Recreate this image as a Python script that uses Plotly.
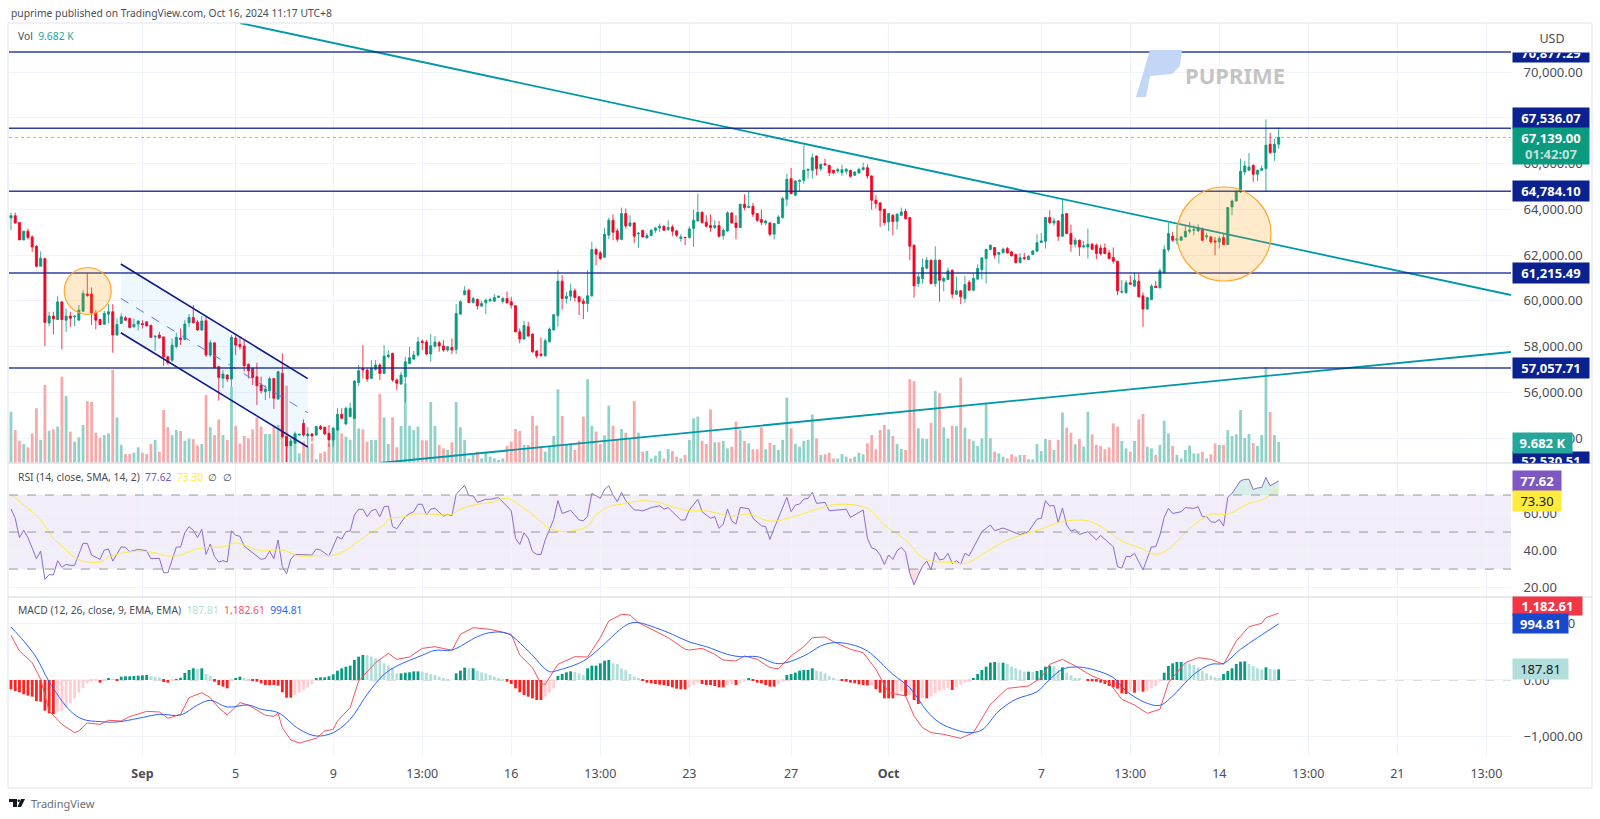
import plotly.graph_objects as go
from plotly.subplots import make_subplots

W = 1600
H = 819
FONT = "Noto Sans"

OPEN = [
    63620,63720,63420,62660,63040,62790,62380,61510,61840,59030,
    59330,59180,59950,59150,59330,59300,59150,59545,60300,60290,
    59470,59180,58975,59415,59520,58500,59010,59255,59225,58860,
    58980,59000,59080,58930,58420,58500,58420,57550,57400,58000,
    58370,58310,59040,59270,59065,58720,59125,57625,58160,57115,
    56610,56750,56580,58370,58090,58020,57220,57030,56680,56315,
    56025,56070,56605,55705,56825,54060,53660,53770,54130,54640,
    54090,54180,54130,54500,54470,54205,53915,54350,55035,54615,
    54935,54860,56430,57040,56970,56605,57000,57190,56825,57555,
    57700,56534,56360,56680,57260,57450,57625,58230,58193,57670,
    58010,58165,58020,57843,57960,57873,59415,60260,60463,59925,
    60056,59765,59910,59997,59982,60143,59970,60100,59955,59780,
    58645,58325,58862,58542,57800,57670,57597,58208,58717,59343,
    60856,60100,60200,60434,60172,59983,59881,60216,62238,62093,
    61903,62864,63519,63053,62675,63810,63271,63402,62922,63082,
    62747,62849,63082,63184,63257,63111,63227,63053,62718,62776,
    62762,63155,63489,63868,63431,63286,63198,63286,62849,63053,
    63839,63402,63198,64217,64071,64130,63810,63548,63402,63402,
    62907,63373,63635,64435,65337,64610,65221,65264,65701,65701,
    66327,65774,65992,65919,65701,65672,65599,65657,65701,65483,
    65584,65730,65817,65454,64392,64275,63999,63446,63737,63475,
    63737,63911,63635,62427,60754,60972,61423,61773,60754,61773,
    60856,60929,61336,60288,60434,60099,60812,60463,60943,61365,
    61846,62238,62325,62035,62107,62282,62136,62020,61671,61889,
    61802,62020,62165,62544,62602,63635,63402,63490,62820,63810,
    62937,62471,62646,62355,62355,62471,62427,62311,62311,62093,
    61889,61729,60376,60347,60783,60638,60856,60216,59634,60056,
    60638,60565,61234,62238,62820,62645,62645,62791,63038,63082,
    63053,63140,62791,62791,62616,62573,62762,62457,64100,64362,
    64755,65631,65704,65923,65529,65704,65777,66843,66478,66843,
]
HIGH = [
    63850,63850,63420,63040,63150,62860,62430,62160,61890,59520,
    59520,60200,59990,59660,59520,59350,59810,60460,61190,60580,
    59590,59225,59560,59850,59850,59225,59444,59330,59270,59225,
    59150,59150,59080,58930,58470,58640,58420,57600,58350,58600,
    58790,59150,59420,59810,59150,59330,59300,58280,58160,57145,
    56970,56795,58500,58500,58425,58280,57260,57085,57290,56680,
    56315,56680,56605,56940,57700,54090,53990,54280,54180,54815,
    54470,54210,54530,54570,54500,54570,54500,55300,55300,55370,
    55545,56534,57190,58060,57040,57407,57407,57260,58060,57840,
    57725,56605,56900,57550,57990,57800,58425,58310,58280,58540,
    58455,58250,58280,58020,58353,59850,60027,60638,60522,60172,
    60100,60000,60100,60130,60288,60230,60172,60405,60172,59810,
    58790,59125,59080,58570,57843,58397,58353,58833,59415,61336,
    61118,60390,60754,60536,60201,60100,61336,62572,62325,62180,
    63184,63635,63780,63155,64071,64028,63737,63446,63009,63082,
    62965,63140,63227,63373,63300,63519,63329,63111,62907,62791,
    63257,63984,64683,63911,63737,63780,63519,63489,63155,63911,
    63868,63737,64246,64654,64755,64275,63839,63984,63548,63446,
    63402,63737,64537,65556,65803,65264,65293,66792,65760,66429,
    66356,65992,66210,65948,65730,65817,65948,65803,65730,65657,
    65817,66036,65963,65483,64610,64319,64028,63839,63780,63839,
    64071,64028,63664,62456,61190,61845,61918,61802,62384,61802,
    61045,61452,61365,61045,60463,61074,60900,61190,61598,61889,
    62282,62456,62355,62136,62325,62355,62180,62063,62093,62093,
    61991,62209,62907,62965,63664,63955,63635,63519,64421,63839,
    63330,62762,62675,62616,63155,62529,62500,62456,62500,62209,
    62325,61743,60900,60900,61118,61220,61190,60361,60172,60725,
    60870,61409,62427,63402,63009,63300,62820,63300,63446,63300,
    63344,63199,62965,62820,62791,62820,62937,64100,64421,64828,
    66211,66114,66463,65953,65733,65923,67925,67339,67091,67573,
]
LOW = [
    63080,63370,62660,62640,62680,62140,61450,61510,58020,58890,
    58540,59150,57870,58630,58860,58890,59150,59520,60170,58935,
    58745,58935,58935,59010,57727,58470,58980,59120,58790,58833,
    58700,58790,58880,58380,57814,58350,57160,57200,57330,57920,
    58060,58280,58860,59010,58690,58690,57550,57550,57040,55630,
    56170,56460,56240,57625,57875,56900,56605,56320,55443,55950,
    55660,55735,55270,55660,53990,52950,53620,53740,54100,54060,
    53640,53840,54100,54350,54130,53620,53620,54320,54820,54570,
    54905,54815,56270,56605,56460,56580,56940,56534,56795,57480,
    56460,56100,56315,55545,57230,57400,57550,57840,57625,57335,
    57960,57770,57770,57770,57670,57670,59400,60245,59910,59880,
    59620,59735,59415,59950,59950,60130,59880,59880,59660,58615,
    58135,58310,58425,57727,57480,57553,57553,58180,58717,58863,
    59620,59880,59997,59954,59372,59197,59517,60172,61554,61772,
    61889,62689,62645,62573,62645,63155,63227,62529,62311,62762,
    62718,62820,62965,63009,63053,63053,62820,62791,62573,62427,
    62718,62355,63460,63373,63198,63009,63140,62762,62675,63009,
    63373,62689,63169,63955,64071,63664,63431,63300,63300,62820,
    62675,63344,63591,64129,64653,64581,64799,65119,65337,65337,
    65482,65672,65919,65454,65526,65585,65454,65526,65381,65454,
    65555,65701,65337,63984,64028,63228,63300,63053,62864,63111,
    63693,63548,61773,60143,60608,60754,61365,60710,60608,59954,
    60419,60900,60099,60245,59852,59910,60434,60434,60929,60929,
    60754,62209,61846,61627,62063,62063,61947,61627,61627,61773,
    61773,61991,62136,62529,62282,63344,63271,62616,62791,62907,
    62136,62325,61962,62282,61846,62209,61816,61991,62034,61816,
    61627,60245,60318,60318,60711,60609,60143,58862,59619,60027,
    60565,60536,61190,62136,62573,62456,62616,62762,62937,62864,
    63009,62602,62675,62500,61991,62282,62428,62428,63737,64333,
    64712,65500,65704,65193,65237,65704,64784,66405,66113,66653,
]
CLOSE = [
    63720,63400,62660,63040,62760,62350,61510,61860,59050,59330,
    59210,59950,59180,59330,59230,59330,59590,60320,60230,59470,
    59150,58960,59444,59520,58500,58964,59300,59150,58833,58964,
    59110,58960,58900,58400,58450,58370,57550,57290,58060,58400,
    58310,58980,59270,59040,58720,59110,57625,58160,57085,56650,
    56795,56580,58400,58060,57989,57160,56940,56650,56285,56070,
    56140,56590,55735,56900,54060,53650,53870,54180,54160,54130,
    54180,54090,54500,54395,54180,53915,54425,55035,54860,55300,
    55300,56490,56940,56970,56580,57040,57190,56825,57580,57625,
    56534,56390,56750,57335,57510,57625,58200,58170,57670,58033,
    58193,58020,57843,57990,57843,59445,59955,60434,59925,60100,
    59780,59880,60027,60056,60143,60200,60100,59910,59810,58645,
    58325,58920,58455,57770,57582,57612,58250,58760,59386,60856,
    60100,60200,60434,60143,59954,59881,60216,62238,62034,61845,
    62907,63519,62995,62689,63810,63271,63402,62820,62947,62791,
    62849,63082,63184,63257,63082,63198,63038,62864,62791,62762,
    63140,63519,63868,63417,63257,63198,63286,62820,63082,63839,
    63402,63198,64217,64071,64115,63780,63519,63431,63490,62907,
    63373,63664,64464,65308,64683,65235,65264,65701,65745,66254,
    65774,65963,65934,65599,65599,65730,65730,65745,65439,65628,
    65745,65817,65454,64392,64246,63955,63417,63810,63460,63780,
    63882,63591,62384,60652,61045,61452,61773,60754,61773,60900,
    60972,61307,60288,60434,60172,60710,60463,60973,61409,61875,
    62238,62427,61991,62107,62253,62093,61962,61671,61875,61846,
    61947,62180,62544,62617,63635,63417,63490,62820,63780,62937,
    62471,62646,62355,62398,62471,62253,62063,62063,62063,61846,
    61729,60434,60405,60783,60725,60900,60172,59634,60143,60638,
    60579,61307,62238,62937,62645,62718,62791,63038,63082,63111,
    63199,62645,62835,62573,62573,62718,62457,64071,64362,64755,
    65657,65894,65850,65529,65704,65777,66800,66478,66843,67139,
]
# volume in thousands
VOLUME = [
    23.5,15.1,10.2,8.7,7.2,13.6,25.1,10.6,35.8,14.8,
    15.4,16.7,39.6,30.7,14.4,9.8,11.8,17.4,28.4,28,
    13.9,11.6,12.8,13.6,42.7,20.9,8.3,4.1,4.1,4.7,
    7.2,4.7,4.1,8.7,10.6,5.2,24.3,16.4,12.8,15.1,
    14.7,10.2,11.2,10.9,8,8.7,31.2,16.4,12.8,20,
    12.8,10.6,35,17,9,12.4,11.3,15.4,20.9,16.7,
    13.3,13.3,17.1,17.4,16.7,35.5,7.5,13.6,4.4,9.8,
    7.5,9,1.7,4.4,5.2,9,10.6,15.9,13.6,12.1,
    10.6,24.6,15.9,15.4,9.8,10.6,10.6,31.7,20.9,8.7,
    20.9,7.2,17,36.5,17.1,15.1,16.7,10.4,10.4,28,
    17,8.3,6.7,6,9.5,28,16.4,10.6,2.1,3.7,
    5.2,2.1,5.2,2.9,2.1,1.4,2.1,7.8,9.8,15.6,
    14.7,8.3,8.3,21.6,17.1,7.5,5.2,7.8,12.4,33.8,
    21.6,8.3,9,6,10.2,21.3,38.4,17.1,14.4,8.7,
    12.7,26.3,17.1,10.6,15.6,13.9,11.3,28.4,13.9,5.2,
    5.5,2.1,3.4,5.5,2.1,6.3,5.5,2.9,2.1,3.7,
    10.6,20.5,21.3,10.2,8.7,24.6,9.5,9.6,10.1,6.7,
    7.5,19,15.1,10.1,9,6.3,6.3,16.4,6.3,9.3,
    8.3,6,10.6,30,15.9,8.7,7.5,10.2,10.6,22.3,
    11.3,3.7,4,4.7,2.1,2.1,4.1,2.9,2.1,2.9,
    4.7,4,9,12.8,6.3,15.1,17.4,15.4,12.4,8.7,
    6.4,6,38.4,37.6,15.9,11.3,11,18.5,33,32,
    16.4,11.3,17.1,17,39.1,16.2,11,10.2,7.8,11.3,
    27.7,11.3,5.2,4.4,2.9,2.1,4,2.9,3.7,3.7,
    1.7,1.7,8.7,5.5,11,10.6,6,10.6,23.1,16.2,
    13.9,8.6,11,7.5,23.5,13.1,8.3,7.8,6.3,7.2,
    18.2,16.7,10.1,6.7,5.2,10.1,20,22.5,7.5,6.7,
    3.7,8.3,19.4,13.6,7.8,3.7,2.1,6,8,4.4,
    4.4,5.2,2.1,4,9,8.3,8.3,15.1,12.4,13.1,
    24.3,11.5,13.3,9.2,7.8,12.8,44,23.4,12.8,9.682,
]
MACD_HIST = [
    -165,-195,-218,-254,-277,-295,-372,-384,-543,-590,
    -602,-561,-543,-472,-413,-325,-224,-148,-59,-30,
    -18,-47,-12,30,6,-6,59,65,65,71,
    77,83,89,65,53,47,-35,-47,-24,12,
    41,124,177,207,195,207,106,71,-30,-89,
    -118,-148,-18,18,59,18,6,-6,-30,-59,
    -89,-89,-89,-100,-218,-313,-313,-266,-224,-177,
    -130,-71,30,47,47,65,100,165,207,236,
    254,354,413,443,437,413,384,366,295,254,
    207,118,118,130,136,153,153,148,130,106,
    89,59,18,6,0,118,165,218,207,207,
    165,136,118,89,59,30,12,-30,-71,-148,
    -218,-266,-295,-325,-354,-354,-295,-224,-148,71,
    106,136,153,142,118,89,207,254,254,295,
    342,354,295,283,207,177,106,59,30,-18,
    -47,-59,-71,-83,-94,-106,-130,-153,-165,-165,
    -130,-89,-47,-71,-89,-89,-106,-130,-130,-89,
    -71,-89,-59,-12,18,-18,-47,-59,-89,-118,
    -118,-77,-30,89,106,130,165,177,177,207,
    165,148,118,71,18,0,-12,-30,-47,-59,
    -77,-89,-94,-89,-165,-224,-325,-325,-325,-266,
    -207,-283,-266,-354,-425,-325,-325,-295,-236,-189,
    -165,-148,-177,-130,-89,-47,-30,30,106,177,
    236,307,319,307,307,283,236,207,177,148,
    148,142,159,177,236,254,248,177,224,130,
    83,30,18,0,-12,-24,-30,-47,-71,-106,
    -130,-153,-236,-248,-207,-224,-189,-207,-195,-148,
    -106,-30,130,248,295,319,319,307,295,266,
    218,165,118,77,47,18,106,159,207,283,
    325,330,283,248,207,189,224,195,183,188,
]

RSI_BARS = [
    0,1,2,3,4,5,6,7,8,9,10,11,12,13,14,15,17,18,19,21,22,23,24,26,27,28,30,32,33,35,
    36,37,39,40,41,42,43,44,45,46,47,48,49,50,51,52,53,54,55,59,60,61,62,63,64,65,66,67,71,72,
    73,75,77,78,79,80,81,82,83,84,85,86,87,88,89,90,91,93,94,95,96,97,98,99,100,102,103,104,105,107,
    108,109,110,112,113,115,118,119,120,121,122,123,124,125,126,128,129,130,132,134,135,136,137,139,140,141,142,143,144,145,
    147,148,149,151,153,154,155,158,159,160,162,163,165,166,167,168,169,170,171,172,174,175,177,178,179,180,183,184,185,186,
    187,188,189,190,192,193,197,198,201,202,203,204,205,206,207,208,209,210,211,212,213,214,215,216,217,218,219,220,221,222,
    223,224,225,226,229,231,232,234,236,238,240,242,243,244,245,246,247,248,249,250,251,252,254,256,257,260,261,262,263,264,
    265,267,269,270,271,272,273,274,276,277,279,280,281,282,283,284,285,286,287,288,290,291,292,293,294,295,296,297,299,
]
RSI_VALUES = [
    62.4,57.4,47,51,47,41.7,35.6,39.7,24.4,27,26.8,34.5,31,32.5,32,32,43.9,43.9,37.6,35.2,40.3,40.8,34.3,42,41.7,39.4,40.6,39.9,35.6,35.8,
    28,28,41.9,41.9,49.6,52.9,51,47,51.5,37.9,43.5,36.7,33.8,34.5,33.8,50.7,48.2,47.7,42.4,35.2,35.8,39.7,35.6,45.7,31.3,27.5,35.4,37.9,37.6,40.8,
    40.3,37,47.5,46.2,50.2,50.5,59.2,62.3,62.3,58.3,61.5,62.3,58.3,63.7,64,52.9,51.8,58.3,60,61,65,65,59.2,62.4,62.8,58.6,59.5,58.8,70.4,75.2,
    69.6,69.6,66,67.7,67.7,68.6,61.5,46.6,43.3,49.6,46.6,39.4,37.9,37.9,45.7,56.8,67,60,61.7,56.5,56.1,58.6,70.9,68.2,73,75,70,66.4,71.4,67,
    61.9,61.9,61.4,63.2,64.2,62.4,63.2,56.5,56.5,61.9,67.7,61,57.4,58.3,52,54.3,62.4,56.1,54.3,63.3,62.6,57.4,53.4,52.9,46,52,68.7,61,64.6,65.1,
    67.8,68.2,71.4,65.5,66,61.5,62.3,57.9,61.9,46.6,41.5,40.6,37.6,32.5,37.6,35.2,39.9,41.7,39,27.7,21.5,26.8,31.6,34.3,29.5,39.2,34.9,35.4,38.5,33,
    34.5,32.7,38.5,37.2,50.2,53.8,50.7,52.2,50.2,48.6,50.2,57,57.4,66.9,64,64.4,55.2,63,53.8,50.5,51.4,48.7,50.2,45.7,48.2,42,31.3,30.5,36.7,36.7,
    38.5,29.5,42,42,48.4,57.9,62.8,60,61,63.2,62.8,63.7,58.3,58.3,55.6,55.2,56.8,53.2,68.7,70.9,77.7,78.5,78.5,73,73.8,74.1,79.5,75,77.62,
]
RSI_MA_BARS = [
    0,4,7,10,12,15,17,21,23,26,30,34,37,40,43,46,50,53,55,59,64,68,72,77,80,84,88,89,93,95,
    99,104,106,110,113,117,121,125,127,131,136,138,141,144,148,152,157,160,164,170,174,179,185,191,195,202,206,211,215,218,
    222,225,231,235,243,248,254,259,262,266,270,273,278,283,287,292,295,299,
]
RSI_MA_VALUES = [
    70.2,62.8,56.5,46.6,42.4,36.3,34.3,33.8,36.3,38.5,39.7,38.8,37,37.6,40.3,41.7,42,44.2,43,39.9,40.3,37,37.2,37.9,41.7,48.4,53.8,57,58.3,59.7,
    59.7,59.5,62.4,65,65.9,68.2,62.8,55.6,52,50.2,53.2,59.2,63.7,65,66.8,66.4,63,61.5,61.4,58.6,59.7,55.9,58.6,63,65,62.8,53.8,45.7,36.1,34,
    33.6,33,40.6,45.7,51.6,55.6,56,50.2,45,41.7,38,40.6,52,59.5,59.7,65.5,67.3,73.3,
]
MACD_BARS = [
    0,2,5,7,9,12,15,16,18,21,23,26,28,32,35,37,40,42,45,47,49,51,54,56,60,62,63,64,66,68,
    72,74,76,77,80,82,86,89,91,94,97,100,104,106,109,113,118,120,123,125,126,129,133,136,139,141,144,146,148,152,
    155,159,160,163,166,168,171,173,176,179,181,184,187,189,192,194,198,201,204,207,211,213,215,217,220,224,227,231,235,240,
    243,245,248,251,255,259,262,265,268,271,273,277,280,283,286,289,292,295,296,299,
]
MACD_VALUES = [
    790,513,307,12,-549,-785,-932,-903,-761,-785,-714,-726,-649,-555,-566,-679,-608,-313,-224,-313,-490,-620,-401,-443,-625,-643,-590,-844,-1062,-1115,
    -1032,-903,-873,-726,-490,-18,307,472,366,407,560,590,525,808,926,897,808,442,218,-65,-77,277,413,407,749,1044,1162,1150,1015,867,
    749,543,531,560,454,354,336,425,366,218,200,425,590,749,761,678,543,484,189,-224,-283,-637,-844,-932,-962,-1032,-932,-431,-148,-106,
    41,277,366,248,71,-47,-342,-443,-590,-519,-47,307,395,366,277,690,944,1003,1103,1182.61,
]
SIGNAL_BARS = [
    0,3,6,9,14,17,21,25,30,35,40,44,47,51,56,59,63,68,72,76,80,84,88,91,97,100,104,110,113,117,
    122,127,129,135,139,144,146,148,152,156,160,164,169,172,176,181,187,191,194,198,202,208,212,216,219,223,226,229,233,237,
    242,245,248,251,255,260,263,268,271,274,279,283,286,290,294,299,
]
SIGNAL_VALUES = [
    938,690,395,-30,-549,-696,-737,-743,-679,-608,-620,-443,-360,-478,-443,-519,-578,-873,-991,-932,-696,-254,100,248,437,525,531,767,838,826,
    513,148,171,336,572,915,1003,1015,926,808,673,590,454,413,413,289,425,602,661,631,513,100,-136,-549,-755,-885,-932,-885,-549,-342,
    -207,12,189,230,189,41,-195,-413,-448,-283,100,277,295,543,749,994.81,
]

TICK_BARS = [31, 53, 76, 97, 118, 139, 160, 184, 207, 243, 264, 285, 306, 327, 348]
TICK_TEXT = ["<b>Sep</b>", "5", "9", "13:00", "16", "13:00", "23", "27", "<b>Oct</b>", "7", "13:00", "14", "13:00", "21", "13:00"]
PRICE_TICKS = [54000, 56000, 58000, 60000, 62000, 64000, 66000, 68000, 70000]
RSI_TICKS = [20, 40, 60]
MACD_TICKS = [-1000, 0, 1000]
LEVELS = [70877.29, 67536.07, 64784.10, 61215.49, 57057.71]
LAST_PRICE = 67139.00

# drawings, bar index / price
TREND_DOWN_X = [54, 353.8]
TREND_DOWN_Y = [72142, 60251]
TREND_UP_X = [87, 353.8]
TREND_UP_Y = [52907, 57760]
CHANNEL_X = [25.9, 70]
CHANNEL_TOP = [61607, 56593]
CHANNEL_MID = [60107, 55100]
CHANNEL_BOTTOM = [58603, 53607]

X_RANGE = [-0.47, 353.8]
PRICE_RANGE = [52907, 72142]
VOL_RANGE = [0, 201.8]
RSI_RANGE = [14.9, 87.3]
MACD_RANGE = [-1363, 1469]

GREEN = "#089981"
RED = "#f7021f"
NAVY = "#0b2190"
TEAL = "#0097a7"
GRID = "#f0f3fa"
BORDER = "#e0e3eb"
TEXT = "#4a4d57"

bars = list(range(len(CLOSE)))


def px(x):
    return x / W


def py(y):
    return 1 - y / H


fig = make_subplots(
    rows=3, cols=1, shared_xaxes=True, vertical_spacing=0,
    specs=[[{"secondary_y": True}], [{}], [{}]],
)

# volume goes on the primary axis so the candles draw over it
vol_colors = ["#8fd3c8" if c >= o else "#f8a9a9" for o, c in zip(OPEN, CLOSE)]
fig.add_trace(go.Bar(x=bars, y=VOLUME, marker_color=vol_colors, marker_line_width=0, width=0.66), row=1, col=1, secondary_y=False)

fig.add_trace(go.Scatter(
    x=CHANNEL_X + CHANNEL_X[::-1], y=CHANNEL_TOP + CHANNEL_BOTTOM[::-1],
    fill="toself", fillcolor="rgba(33,150,243,0.07)", mode="none",
), row=1, col=1, secondary_y=True)

fig.add_trace(go.Candlestick(
    x=bars, open=OPEN, high=HIGH, low=LOW, close=CLOSE,
    increasing=dict(line=dict(color=GREEN, width=0.8), fillcolor=GREEN),
    decreasing=dict(line=dict(color=RED, width=0.8), fillcolor=RED),
    whiskerwidth=0,
), row=1, col=1, secondary_y=True)

for ys, color, width, dash in [
    (CHANNEL_TOP, "#0d1a8a", 1.6, "solid"),
    (CHANNEL_BOTTOM, "#0d1a8a", 1.6, "solid"),
    (CHANNEL_MID, "#4d7cf0", 1, "dash"),
]:
    fig.add_trace(go.Scatter(x=CHANNEL_X, y=ys, mode="lines", line=dict(color=color, width=width, dash=dash)), row=1, col=1, secondary_y=True)

fig.add_trace(go.Scatter(x=TREND_DOWN_X, y=TREND_DOWN_Y, mode="lines", line=dict(color=TEAL, width=1.8)), row=1, col=1, secondary_y=True)
fig.add_trace(go.Scatter(x=TREND_UP_X, y=TREND_UP_Y, mode="lines", line=dict(color=TEAL, width=1.8)), row=1, col=1, secondary_y=True)

# RSI pane, overbought and oversold stretches are shaded
over_x = [b for b, v in zip(RSI_BARS, RSI_VALUES) if b >= 287]
over_y = [max(v, 70) for b, v in zip(RSI_BARS, RSI_VALUES) if b >= 287]
fig.add_trace(go.Scatter(x=over_x, y=[70] * len(over_x), mode="lines", line=dict(width=0)), row=2, col=1)
fig.add_trace(go.Scatter(x=over_x, y=over_y, mode="lines", line=dict(width=0), fill="tonexty", fillcolor="rgba(8,153,129,0.16)"), row=2, col=1)
under_x = [b for b in RSI_BARS if 211 <= b <= 217]
under_y = [min(v, 30) for b, v in zip(RSI_BARS, RSI_VALUES) if 211 <= b <= 217]
fig.add_trace(go.Scatter(x=under_x, y=[30] * len(under_x), mode="lines", line=dict(width=0)), row=2, col=1)
fig.add_trace(go.Scatter(x=under_x, y=under_y, mode="lines", line=dict(width=0), fill="tonexty", fillcolor="rgba(242,54,69,0.16)"), row=2, col=1)
fig.add_trace(go.Scatter(x=RSI_BARS, y=RSI_VALUES, mode="lines", line=dict(color="#8b6ccb", width=1)), row=2, col=1)
fig.add_trace(go.Scatter(x=RSI_MA_BARS, y=RSI_MA_VALUES, mode="lines", line=dict(color="#ffeb3b", width=1, shape="spline")), row=2, col=1)

# MACD pane
hist_colors = []
for n, v in enumerate(MACD_HIST):
    prev = MACD_HIST[n - 1] if n else v
    if v >= 0:
        hist_colors.append("#089981" if v >= prev else "#b2dfdb")
    else:
        hist_colors.append("#ff2020" if v <= prev else "#ffcdd2")
fig.add_trace(go.Bar(x=bars, y=MACD_HIST, marker_color=hist_colors, marker_line_width=0, width=0.66), row=3, col=1)
fig.add_trace(go.Scatter(x=MACD_BARS, y=MACD_VALUES, mode="lines", line=dict(color="#f7525f", width=1)), row=3, col=1)
fig.add_trace(go.Scatter(x=SIGNAL_BARS, y=SIGNAL_VALUES, mode="lines", line=dict(color="#2962ff", width=1, shape="spline")), row=3, col=1)

fig.update_layout(
    width=W, height=H, margin=dict(l=0, r=0, t=0, b=0),
    paper_bgcolor="white", plot_bgcolor="white",
    showlegend=False, barmode="overlay", hovermode=False,
    font=dict(family=FONT, size=13, color=TEXT),
)

x_common = dict(
    domain=[px(9), px(1511)], range=X_RANGE, tickmode="array", tickvals=TICK_BARS,
    showgrid=True, gridcolor=GRID, gridwidth=1, zeroline=False, showline=False,
    rangeslider=dict(visible=False),
)
fig.update_xaxes(**x_common)
fig.update_xaxes(showticklabels=False, ticks="", row=1, col=1)
fig.update_xaxes(showticklabels=False, ticks="", row=2, col=1)
fig.update_xaxes(
    showticklabels=True, ticktext=TICK_TEXT, ticks="outside", ticklen=5, tickcolor="rgba(0,0,0,0)",
    tickfont=dict(family=FONT, size=12.5, color=TEXT), row=3, col=1,
)

y_common = dict(
    side="right", showgrid=True, gridcolor=GRID, gridwidth=1, zeroline=False, showline=False,
    ticks="outside", ticklen=9, tickcolor="rgba(0,0,0,0)", tickmode="array",
    tickfont=dict(family=FONT, size=13, color=TEXT), tickformat=",.2f",
)
fig.update_layout(
    yaxis=dict(domain=[py(463), py(23)], range=VOL_RANGE, visible=False),
    yaxis2=dict(domain=[py(463), py(23)], range=PRICE_RANGE, tickvals=PRICE_TICKS, **y_common),
    yaxis3=dict(domain=[py(597), py(463)], range=RSI_RANGE, tickvals=RSI_TICKS, **y_common),
    yaxis4=dict(domain=[py(757), py(597)], range=MACD_RANGE, tickvals=MACD_TICKS, **y_common),
)

# levels, circles
for lvl in LEVELS:
    fig.add_shape(type="line", xref="x", yref="y2", x0=X_RANGE[0], x1=X_RANGE[1], y0=lvl, y1=lvl,
                  line=dict(color=NAVY, width=1.5), opacity=0.85)
fig.add_shape(type="line", xref="x", yref="y2", x0=X_RANGE[0], x1=X_RANGE[1], y0=LAST_PRICE, y1=LAST_PRICE,
              line=dict(color=GREEN, width=1, dash="dot"), opacity=0.5)


def circle(cx, cy, r):
    fig.add_shape(type="circle", xref="paper", yref="paper",
                  x0=px(cx - r), x1=px(cx + r), y0=py(cy + r), y1=py(cy - r),
                  fillcolor="rgba(255,152,0,0.2)", line=dict(color="#ffa726", width=1.2))


circle(87.7, 291, 23.5)
circle(1224, 234, 47)

# RSI band
fig.add_shape(type="rect", xref="x", yref="y3", x0=X_RANGE[0], x1=X_RANGE[1], y0=30, y1=70,
              fillcolor="rgba(126,87,194,0.1)", line_width=0, layer="below")
for lvl in [70, 50, 30]:
    fig.add_shape(type="line", xref="x", yref="y3", x0=X_RANGE[0], x1=X_RANGE[1], y0=lvl, y1=lvl,
                  line=dict(color="#9598a1", width=1, dash="dash"))
fig.add_shape(type="line", xref="x", yref="y4", x0=X_RANGE[0], x1=X_RANGE[1], y0=0, y1=0,
              line=dict(color="#b5b8c0", width=1, dash="dash"), layer="below")

# frame and pane dividers
fig.add_shape(type="rect", xref="paper", yref="paper", x0=px(8), x1=px(1592), y0=py(788), y1=py(23),
              line=dict(color=BORDER, width=1))
for y in [463, 597]:
    fig.add_shape(type="line", xref="paper", yref="paper", x0=px(8), x1=px(1592), y0=py(y), y1=py(y),
                  line=dict(color=BORDER, width=1.5))


def pixel_path(points):
    return "M" + " L".join(f"{px(a)},{py(b)}" for a, b in points) + " Z"


# watermark mark
fig.add_shape(type="path", xref="paper", yref="paper", line_width=0, fillcolor="#c3d6f5",
              path=pixel_path([(1150, 50), (1182, 50), (1180, 66), (1172, 74), (1150, 76), (1146, 97), (1136, 97)]))
# TradingView mark
fig.add_shape(type="path", xref="paper", yref="paper", line_width=0, fillcolor="#131722",
              path=pixel_path([(9, 799), (17, 799), (17, 807), (13, 807), (13, 802), (9, 802)]))
fig.add_shape(type="circle", xref="paper", yref="paper", line_width=0, fillcolor="#131722",
              x0=px(17.5), x1=px(20), y0=py(802), y1=py(799.5))
fig.add_shape(type="path", xref="paper", yref="paper", line_width=0, fillcolor="#131722",
              path=pixel_path([(21, 799), (25, 799), (21, 807), (17.5, 807)]))


def note(text, x, y, size=10.3, color=TEXT, anchor="left"):
    fig.add_annotation(xref="paper", yref="paper", x=px(x), y=py(y), xanchor=anchor, yanchor="middle",
                       text=text, showarrow=False, font=dict(family=FONT, size=size, color=color))


def box(text, top, bottom, right, bg, color="white", bold=True, left=1512, size=13, valign="middle"):
    label = f"<b>{text}</b>" if bold else text
    fig.add_annotation(xref="paper", yref="paper", x=px(left), y=py((top + bottom) / 2), xanchor="left", yanchor="middle",
                       width=right - left, height=bottom - top, text=label, showarrow=False, bgcolor=bg,
                       borderpad=0, align="center", valign=valign, font=dict(family=FONT, size=size, color=color))


note("puprime published on TradingView.com, Oct 16, 2024 11:17 UTC+8", 9, 13)
note("Vol  <span style='color:#26a69a'>9.682 K</span>", 16, 36)
note("RSI (14, close, SMA, 14, 2)  <span style='color:#7e57c2'>77.62</span>  "
     "<span style='color:#ffeb3b'>73.30</span>  ∅  ∅", 16, 477)
note("MACD (12, 26, close, 9, EMA, EMA)  <span style='color:#b2dfdb'>187.81</span>  "
     "<span style='color:#f7525f'>1,182.61</span>  <span style='color:#2962ff'>994.81</span>", 16, 610)
note("<b>PUPRIME</b>", 1183, 75, size=22, color="#c4c4c4")
note("TradingView", 29, 803, size=11, color="#6a6d78")

box("70,877.29", 53, 62, 1588, NAVY, valign="bottom")
box("USD", 27, 50, 1588, "white", color=TEXT, bold=False, left=1514, size=12.5)
box("67,536.07", 108, 128, 1588, NAVY)
box("67,139.00<br><span style='color:#bfe3da'>01:42:07</span>", 128, 164, 1588, "#0a9a80")
box("64,784.10", 181, 201, 1588, NAVY)
box("61,215.49", 263, 283, 1588, NAVY)
box("57,057.71", 358, 378, 1588, NAVY)
box("52,530.51", 452, 463, 1588, NAVY, valign="top")
box("9.682 K", 433, 453, 1571, "#26a69a")
box("77.62", 471, 491, 1560, "#7e57c2")
box("73.30", 491, 511, 1560, "#ffeb3b", color="#131722", bold=False)
box("1,182.61", 597, 615, 1581, "#f23645")
box("994.81", 614, 633, 1567, "#1848cc")
box("187.81", 659, 679, 1567, "#b2dfdb", color="#131722", bold=False)

fig.write_html("out.html", config={"displayModeBar": False},
               post_script="document.body.style.margin='0';document.body.style.overflow='hidden';")
